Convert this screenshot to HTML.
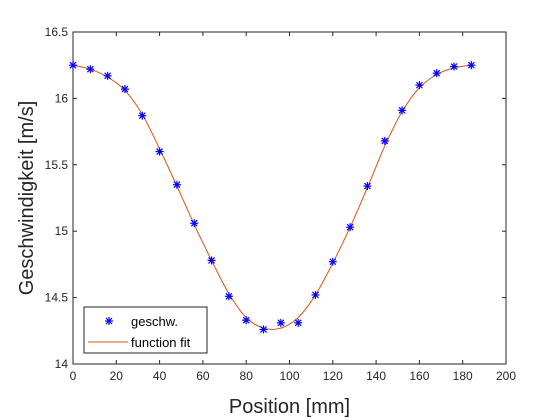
<!DOCTYPE html>
<html><head><meta charset="utf-8"><style>body{margin:0;background:#fff}svg{display:block}text{font-family:"Liberation Sans",sans-serif}</style></head>
<body>
<svg id="chart" width="560" height="420" xmlns="http://www.w3.org/2000/svg"></svg>
<script>
const posX=[0,8,16,24,32,40,48,56,64,72,80,88,96,104,112,120,128,136,144,152,160,168,176,184];
const speed=[16.25,16.22,16.17,16.07,15.87,15.60,15.35,15.06,14.78,14.51,14.33,14.26,14.31,14.31,14.52,14.77,15.03,15.34,15.68,15.91,16.10,16.19,16.24,16.25];
const fitX=[0,8,16,24,32,40,48,56,64,72,80,88,96,104,112,120,128,136,144,152,160,168,176,184];
const fitY=[16.25,16.22,16.16,16.06,15.88,15.62,15.34,15.05,14.78,14.53,14.35,14.27,14.27,14.35,14.52,14.76,15.03,15.33,15.64,15.90,16.08,16.18,16.23,16.25];
const xTicks=[0,20,40,60,80,100,120,140,160,180,200];
const yTicks=[14,14.5,15,15.5,16,16.5];
const L=73,R=506,T=32,B=364;
const sx=v=>L+(v-0)/200*(R-L), sy=v=>B-(v-14)/2.5*(B-T);
const svg=document.getElementById('chart');const NS='http://www.w3.org/2000/svg';
function mk(t,a,p){const e=document.createElementNS(NS,t);for(const k in a)e.setAttribute(k,a[k]);(p||svg).appendChild(e);return e;}
function star(cx,cy,p){const g=mk('g',{stroke:'#0000ff','stroke-width':1.2},p);const r=4;
 mk('line',{x1:cx,x2:cx,y1:cy-r,y2:cy+r},g);mk('line',{x1:cx-r,x2:cx+r,y1:cy,y2:cy},g);
 mk('line',{x1:cx-r*0.75,x2:cx+r*0.75,y1:cy-r*0.75,y2:cy+r*0.75},g);mk('line',{x1:cx-r*0.75,x2:cx+r*0.75,y1:cy+r*0.75,y2:cy-r*0.75},g);return g;}
const ax=mk('g',{});
xTicks.forEach(v=>{const x=sx(v);mk('line',{x1:x,x2:x,y1:B,y2:B-4,stroke:'#262626'},ax);mk('line',{x1:x,x2:x,y1:T,y2:T+4,stroke:'#262626'},ax);
 const t=mk('text',{x:x,y:B+16,'text-anchor':'middle','font-size':12,fill:'#262626'},ax);t.textContent=v;});
yTicks.forEach(v=>{const y=sy(v);mk('line',{x1:L,x2:L+4,y1:y,y2:y,stroke:'#262626'},ax);mk('line',{x1:R,x2:R-4,y1:y,y2:y,stroke:'#262626'},ax);
 const t=mk('text',{x:L-5,y:y+4,'text-anchor':'end','font-size':12,fill:'#262626'},ax);t.textContent=v;});
mk('rect',{x:L,y:T,width:R-L,height:B-T,fill:'none',stroke:'#262626'},ax);
let d='';const P=fitX.map((v,i)=>[sx(v),sy(fitY[i])]);
P.forEach((p,i)=>{if(i==0){d+='M'+p[0]+','+p[1];return;}const p0=P[i-2]||P[i-1],p1=P[i-1],p3=P[i+1]||p;
 d+=`C${p1[0]+(p[0]-p0[0])/6},${p1[1]+(p[1]-p0[1])/6} ${p[0]-(p3[0]-p1[0])/6},${p[1]-(p3[1]-p1[1])/6} ${p[0]},${p[1]}`;});
const fl=mk('path',{d:d,fill:'none',stroke:'#D95319','stroke-width':1});
posX.forEach((v,i)=>{const g=star(sx(v),sy(speed[i]));
 });
const lg=mk('g',{});
mk('rect',{x:84,y:307,width:123,height:46,fill:'#fff',stroke:'#262626'},lg);
star(109,321,lg);
mk('line',{x1:88,x2:128,y1:342,y2:342,stroke:'#D95319'},lg);
const l1=mk('text',{x:131,y:326,'font-size':13,fill:'#000'},lg);l1.textContent='geschw.';
const l2=mk('text',{x:131,y:347,'font-size':13,fill:'#000'},lg);l2.textContent='function fit';
const xl=mk('text',{x:(L+R)/2,y:413,'text-anchor':'middle','font-size':20,fill:'#262626'});xl.textContent='Position [mm]';
const yl=mk('text',{x:0,y:0,'text-anchor':'middle','font-size':20,fill:'#262626',transform:`translate(33,${(T+B)/2}) rotate(-90)`});yl.textContent='Geschwindigkeit [m/s]';
</script>
</body></html>
